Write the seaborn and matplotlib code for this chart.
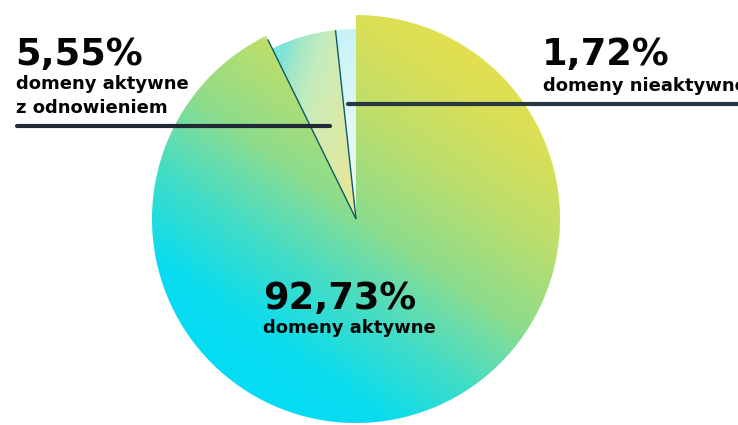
import numpy as np
import matplotlib
matplotlib.use("Agg")
import matplotlib.pyplot as plt
import matplotlib.colors as mcolors
import seaborn as sns

# ---- data ----
categories = ["domeny aktywne", "domeny aktywne z odnowieniem", "domeny nieaktywne"]
values = [92.73, 5.55, 1.72]
pct_labels = ["92,73%", "5,55%", "1,72%"]
sub_labels = [["domeny aktywne"], ["domeny aktywne", "z odnowieniem"], ["domeny nieaktywne"]]

sns.set_theme(style="white")
plt.rcParams['font.family'] = ['DejaVu Sans']

W, H = 738, 425
fig = plt.figure(figsize=(W / 100, H / 100), dpi=100)
fig.patch.set_facecolor("white")
ax = fig.add_axes([0, 0, 1, 1])

cx, cy = 356, 219          # pie centre in pixel coords (y down)
R_big, R_small = 204, 190

wedges, _ = ax.pie(values, startangle=90, counterclock=False,
                   center=(cx, H - cy), radius=R_big,
                   wedgeprops=dict(linewidth=0))
ax.set_xlim(0, W)
ax.set_ylim(0, H)
ax.axis("off")

for w in wedges[1:]:
    w.set_radius(R_small)
for w in wedges:
    w.set_facecolor("none")
    w.set_edgecolor("none")

# pixel grid (y down)
X, Y = np.meshgrid(np.arange(W) + 0.5, np.arange(H) + 0.5)


def grad(t, stops, cols):
    rgb = np.array([mcolors.to_rgb(c) for c in cols])
    img = np.zeros(t.shape + (3,))
    for k in range(3):
        img[..., k] = np.interp(t, stops, rgb[:, k])
    return img


# big slice gradient (cyan bottom-left -> yellow top-right)
ang = np.deg2rad(55)
t0 = (X - cx) * np.cos(ang) - (Y - cy) * np.sin(ang)
img0 = grad(t0, [-204, -150, -75, -25, 5, 90, 160, 204],
            ["#05dbf3", "#07dcf0", "#40dcc8", "#70dca6", "#8ddc8c",
             "#bcde6c", "#d8df58", "#e2e04f"])
# 5.55% slice
t1 = (X - 285) + 0.3 * (Y - 45)
img1 = grad(t1, [0, 15, 37, 60, 103, 150],
            ["#7ee3d8", "#a4e7c8", "#c4ecbc", "#d2ebb2", "#e2e89c", "#e6e890"])
# 1.72% slice
img2 = grad(Y, [28, 120, 215], ["#c6f3f9", "#dff7f6", "#f0f8ee"])

for w, img in zip(wedges, [img0, img1, img2]):
    im = ax.imshow(img, extent=(0, W, 0, H), origin="upper",
                   interpolation="nearest", zorder=1, aspect="auto")
    im.set_clip_path(w)

# dark edge lines on the left side of the small slices
cum = np.cumsum(values)
for frac_end, r in [(cum[0], 200), (cum[1], R_small)]:
    theta = np.deg2rad(90 - 360 * frac_end / 100.0)
    ax.plot([cx, cx + r * np.cos(theta)], [H - cy, H - cy + r * np.sin(theta)],
            color="#0d5a68", lw=1.0, zorder=3, solid_capstyle="butt")

ax.set_xlim(0, W)
ax.set_ylim(0, H)

# ---- labels ----
txt = dict(color="#050505", fontweight="bold", va="baseline", ha="left", zorder=5)
big = 26.5
sub = 13

# 92,73%
ax.text(263, H - 309, pct_labels[0], fontsize=big, **txt)
ax.text(263, H - 333, sub_labels[0][0], fontsize=sub, **txt)

# 5,55%
ax.text(15, H - 65, pct_labels[1], fontsize=big, **txt)
ax.text(16, H - 89, sub_labels[1][0], fontsize=sub, **txt)
ax.text(16, H - 113, sub_labels[1][1], fontsize=sub, **txt)
ax.plot([17, 330], [H - 126, H - 126], color="#1f2a36", lw=3.0,
        solid_capstyle="round", zorder=4)

# 1,72%
ax.text(542, H - 65, pct_labels[2], fontsize=big, **txt)
ax.text(543, H - 91, sub_labels[2][0], fontsize=sub, **txt)
ax.plot([348, 760], [H - 104, H - 104], color="#283742", lw=3.0,
        solid_capstyle="round", zorder=4, clip_on=False)

fig.savefig("out.png", dpi=100, facecolor="white")
